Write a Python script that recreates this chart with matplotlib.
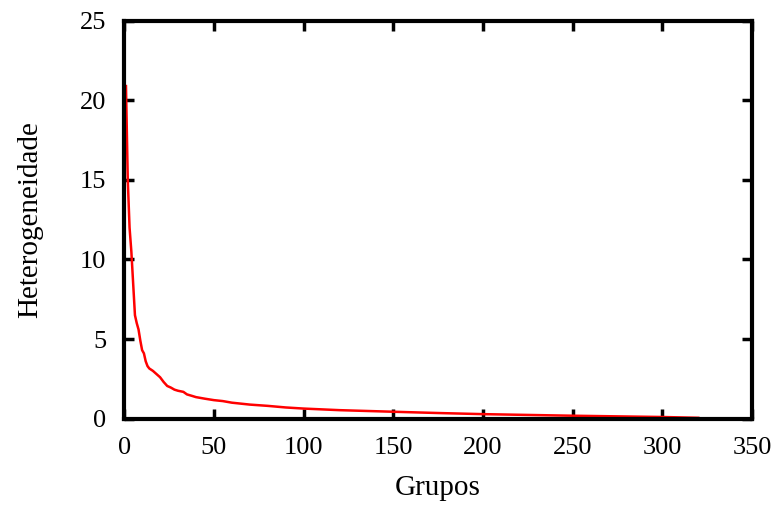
import numpy as np
import matplotlib
matplotlib.use("Agg")
import matplotlib.pyplot as plt

plt.rcParams['font.family'] = ['Liberation Serif', 'DejaVu Serif']

# group index vs heterogeneity
grupos = [1, 2, 3, 4, 5, 6, 7, 8, 9, 10, 11, 12, 13, 14, 16, 18, 20, 22, 24,
          26, 28, 30, 33, 35, 38, 40, 45, 50, 55, 60, 70, 80, 90, 100, 120,
          150, 175, 200, 225, 250, 275, 300, 320]
heterog = [20.9, 15.0, 12.0, 10.5, 8.5, 6.5, 6.0, 5.6, 4.9, 4.3, 4.1, 3.6,
           3.3, 3.15, 3.0, 2.8, 2.6, 2.3, 2.05, 1.95, 1.82, 1.75, 1.68, 1.52,
           1.42, 1.35, 1.25, 1.16, 1.1, 1.0, 0.88, 0.80, 0.70, 0.63, 0.53,
           0.43, 0.35, 0.28, 0.23, 0.18, 0.14, 0.10, 0.05]

fig = plt.figure(figsize=(7.81, 5.08), dpi=100)
ax = fig.add_axes([0.159, 0.176, 0.804, 0.783])

ax.plot(grupos, heterog, color='red', lw=1.8)

ax.set_xlim(0, 350)
ax.set_ylim(0, 25)
ax.set_xticks(np.arange(0, 351, 50))
ax.set_yticks(np.arange(0, 26, 5))

for s in ax.spines.values():
    s.set_linewidth(3)
ax.tick_params(direction='in', length=7, width=2.5, top=True, right=True,
               labelsize=19, pad=13)

ax.set_xlabel('Grupos', fontsize=21, labelpad=12)
ax.set_ylabel('Heterogeneidade', fontsize=21, labelpad=26)

fig.savefig('out.png', dpi=100)
